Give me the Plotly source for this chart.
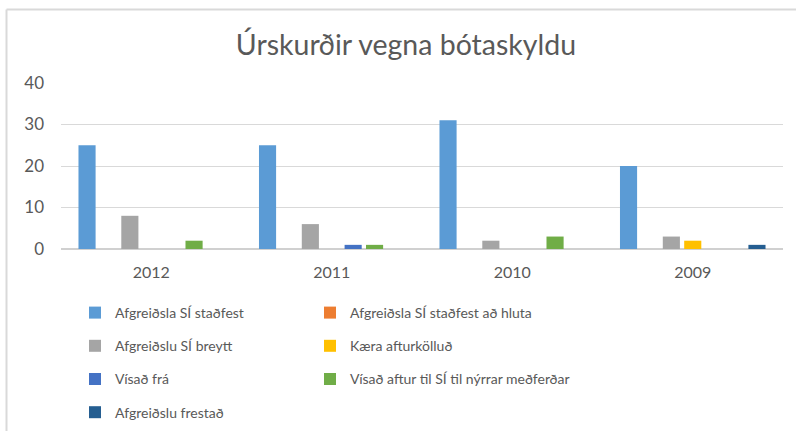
import plotly.graph_objects as go

years = ["2012", "2011", "2010", "2009"]
series_names = [
    "Afgreiðsla SÍ staðfest",
    "Afgreiðsla SÍ staðfest að hluta",
    "Afgreiðslu SÍ breytt",
    "Kæra afturkölluð",
    "Vísað frá",
    "Vísað aftur til SÍ til nýrrar meðferðar",
    "Afgreiðslu frestað",
]
stadfest = [25, 25, 31, 20]
stadfest_hluta = [0, 0, 0, 0]
breytt = [8, 6, 2, 3]
afturkollud = [0, 0, 0, 2]
visad_fra = [0, 1, 0, 0]
visad_aftur = [2, 1, 3, 0]
frestad = [0, 0, 0, 1]
values = [stadfest, stadfest_hluta, breytt, afturkollud, visad_fra, visad_aftur, frestad]
colors = ["#5B9BD5", "#ED7D31", "#A5A5A5", "#FFC000", "#4472C4", "#70AD47", "#255E91"]
legend_ids = ["legend", "legend2", "legend", "legend2", "legend", "legend2", "legend"]

FONT = "Lato"
TXT = "#595959"

fig = go.Figure()
for i, (name, vals, col, lg) in enumerate(zip(series_names, values, colors, legend_ids)):
    fig.add_trace(go.Bar(
        x=years, y=vals, name=name, marker=dict(color=col, line=dict(width=0)),
        legend=lg, legendgroup=f"g{i}",
    ))

W, H = 796, 431
L, R, T, B = 61, 13, 83, 182
pw, ph = W - L - R, H - T - B

def px_x(p):
    return (p - L) / pw

def px_y(p):
    return (H - B - p) / ph

legend_common = dict(
    orientation="v", font=dict(family=FONT, size=14, color=TXT),
    bgcolor="rgba(0,0,0,0)", tracegroupgap=12, itemwidth=30,
    xanchor="left", yanchor="top", traceorder="grouped",
)

fig.update_layout(
    width=W, height=H,
    margin=dict(l=L, r=R, t=T, b=B, autoexpand=False),
    paper_bgcolor="white", plot_bgcolor="white",
    barmode="group", bargap=0.17, bargroupgap=0.2,
    title=dict(text="Úrskurðir vegna bótaskyldu", x=0.51, xanchor="center",
               y=1 - 45 / H, yanchor="middle",
               font=dict(family=FONT, size=28.5, color=TXT)),
    font=dict(family=FONT, color=TXT),
    xaxis=dict(showgrid=False, showline=False, ticks="", zeroline=False,
               ticklabelstandoff=12,
               tickfont=dict(family=FONT, size=16, color=TXT)),
    yaxis=dict(range=[0, 40], dtick=10, showgrid=True, gridcolor="#D9D9D9",
               gridwidth=1, zeroline=True, zerolinecolor="#D0D0D0", zerolinewidth=1.5,
               showline=False, ticks="", ticklabelstandoff=16,
               tickfont=dict(family=FONT, size=17, color=TXT)),
    legend=dict(x=px_x(75), y=px_y(297), **legend_common),
    legend2=dict(x=px_x(310), y=px_y(297), **legend_common),
    showlegend=True,
    shapes=[
        dict(type="line", xref="paper", yref="paper", x0=px_x(6.5), x1=px_x(800),
             y0=px_y(9.5), y1=px_y(9.5), line=dict(color="#D9D9D9", width=2)),
        dict(type="line", xref="paper", yref="paper", x0=px_x(6.5), x1=px_x(6.5),
             y0=px_y(9.5), y1=px_y(440), line=dict(color="#D9D9D9", width=2)),
    ],
)

fig.write_html("out.html", post_script="document.body.style.margin='0';",
               config={"displayModeBar": False})
